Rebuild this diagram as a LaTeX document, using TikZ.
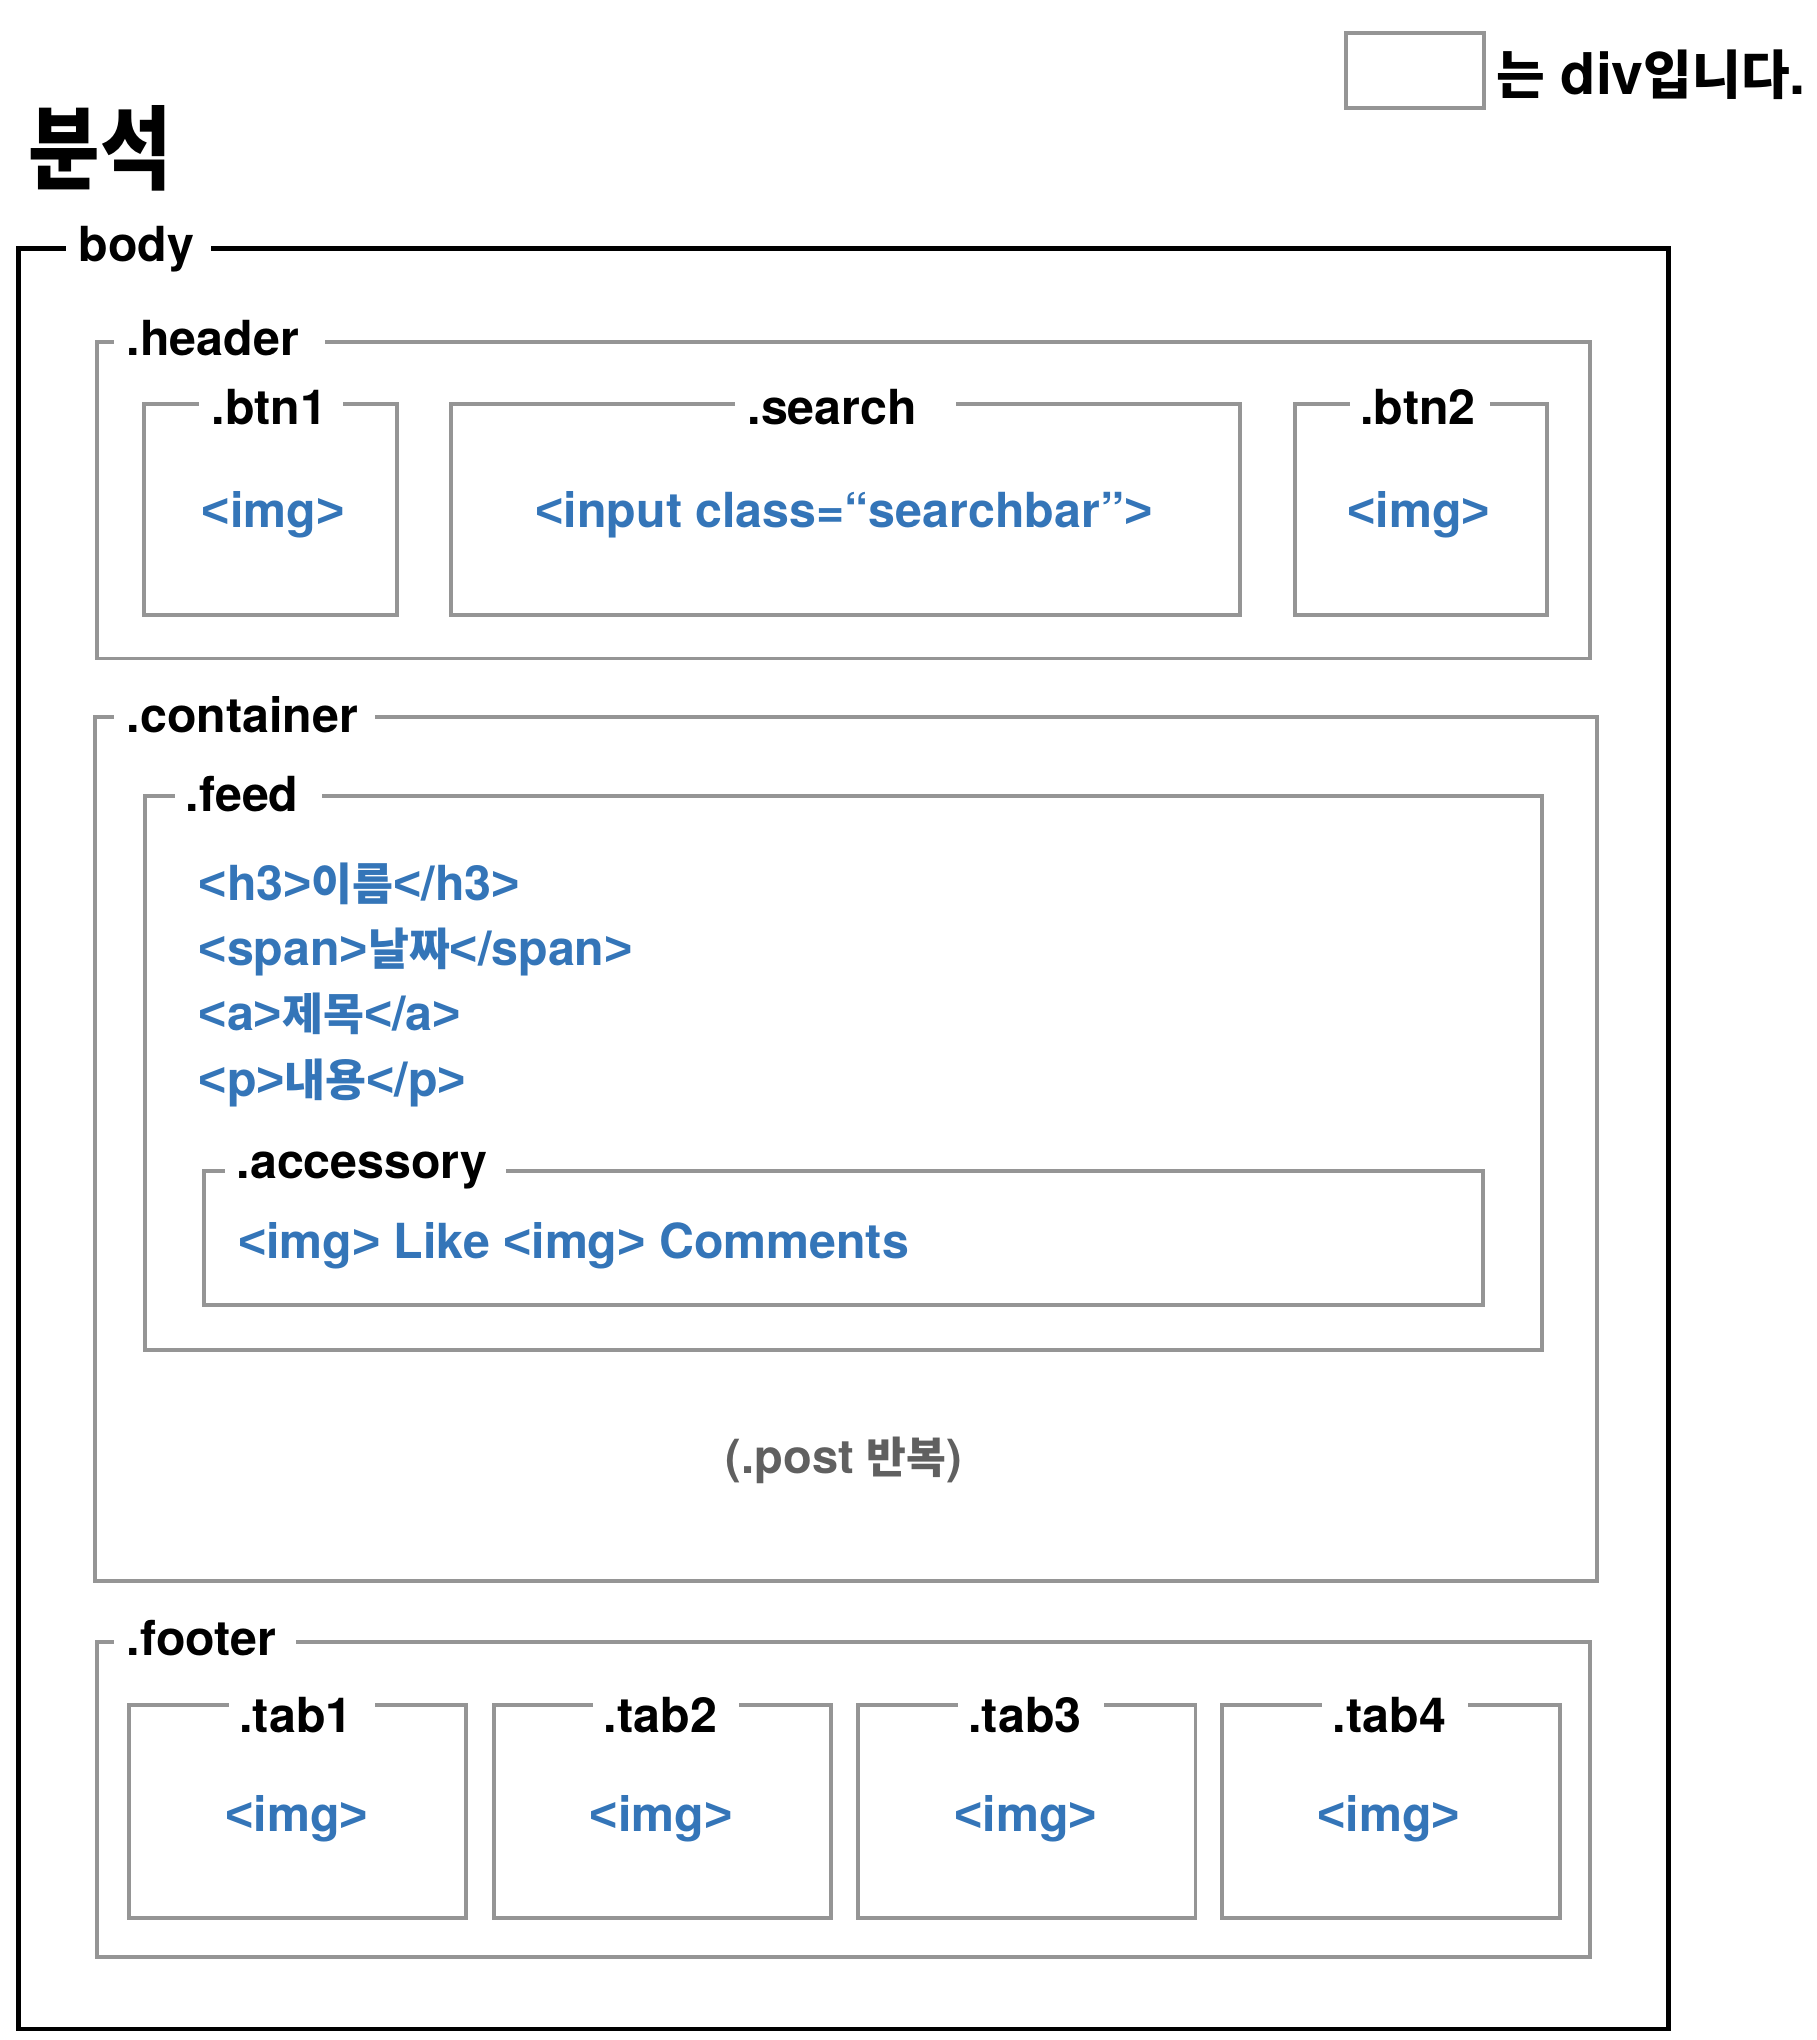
\documentclass[tikz,border=0pt]{standalone}
\usepackage{fontspec}
\newfontfamily\hv{TeX Gyre Heros}
\newfontfamily\ar{Liberation Sans}
\newfontfamily\cjk[Scale=0.92]{Noto Sans CJK KR}
\newcommand\LT{{\ar <}}
\newcommand\GT{{\ar >}}
\definecolor{divgray}{RGB}{149,149,149}
\definecolor{tagblue}{RGB}{52,117,184}
\definecolor{postgray}{RGB}{96,96,96}
\begin{document}
\begin{tikzpicture}[x=1pt,y=-1pt,
  divbox/.style={draw=divgray,line width=3pt},
  bodybox/.style={draw=black,line width=3.5pt},
  lbl/.style={font=\hv\bfseries\fontsize{37}{44}\selectfont,fill=white,inner sep=0pt,anchor=base west,text=black},
  tagc/.style={font=\hv\bfseries\fontsize{37}{44}\selectfont,text=tagblue,inner sep=0pt,anchor=base},
  tagl/.style={tagc,anchor=base west},
  postnote/.style={font=\hv\bfseries\fontsize{36}{44}\selectfont,text=postgray,inner sep=0pt,anchor=base}]
\useasboundingbox (0,0) rectangle (1390,1561.4);

% legend
\draw[divbox] (1030,25) rectangle (1136,83);
\node[font=\hv\bfseries\fontsize{44}{50}\selectfont,inner sep=0pt,anchor=base west] (legend) at (1145,72) {{\cjk 는} div{\cjk 입니다}.};

% title
\node[font=\cjk\bfseries\fontsize{76}{80}\selectfont,inner sep=0pt,anchor=base west,transform shape,xscale=0.85] (title) at (22,140) {분석};

% boxes
\draw[bodybox] (14,190) rectangle (1277,1553);
\draw[divbox] (74,262) rectangle (1217,504);
\draw[divbox] (110,309) rectangle (304,471);
\draw[divbox] (345,309) rectangle (949,471);
\draw[divbox] (991,309) rectangle (1184,471);
\draw[divbox] (73,549) rectangle (1222,1210);
\draw[divbox] (111,609) rectangle (1180,1033);
\draw[divbox] (156,896) rectangle (1135,999);
\draw[divbox] (74,1257) rectangle (1217,1498);
\draw[divbox] (99,1305) rectangle (357,1468);
\draw[divbox] (378,1305) rectangle (636,1468);
\draw[divbox] (657,1305) rectangle (915,1468);
\draw[divbox] (935,1305) rectangle (1194,1468);

% labels
\node[lbl] (lbody) at (50,200) {\kern10pt\relax body\kern13pt\relax};
\node[lbl] (lheader) at (87,272) {\kern10pt\relax .header\kern20pt\relax};
\node[lbl] (lbtn1) at (152,325) {\kern10pt\relax .btn1\kern12pt\relax};
\node[lbl] (lsearch) at (562,325) {\kern10pt\relax .search\kern30pt\relax};
\node[lbl] (lbtn2) at (1033,325) {\kern8pt\relax .btn2\kern11pt\relax};
\node[lbl] (lcontainer) at (87,561) {\kern10pt\relax .container\kern13pt\relax};
\node[lbl] (lfeed) at (134,621) {\kern8pt\relax .feed\kern18pt\relax};
\node[lbl] (laccessory) at (172,902) {\kern9pt\relax .accessory\kern14pt\relax};
\node[lbl] (lfooter) at (87,1267) {\kern10pt\relax .footer\kern15pt\relax};
\node[lbl] (ltab1) at (175,1326) {\kern8pt\relax .tab1\kern17pt\relax};
\node[lbl] (ltab2) at (454,1326) {\kern8pt\relax .tab2\kern17pt\relax};
\node[lbl] (ltab3) at (733,1326) {\kern8pt\relax .tab3\kern17pt\relax};
\node[lbl] (ltab4) at (1012,1326) {\kern8pt\relax .tab4\kern17pt\relax};

% header contents
\node[tagc] (img1) at (209,404) {\LT img\GT};
\node[tagc] (input) at (646,404) {\LT input class=“searchbar”\GT};
\node[tagc] (img2) at (1086,404) {\LT img\GT};

% feed contents
\node[tagl] (h3) at (152,689) {\LT h3\GT{\cjk 이름}\LT/h3\GT};
\node[tagl] (span) at (152,739) {\LT span\GT{\cjk 날짜}\LT/span\GT};
\node[tagl] (anch) at (152,789) {\LT a\GT{\cjk 제목}\LT/a\GT};
\node[tagl] (para) at (152,839) {\LT p\GT{\cjk 내용}\LT/p\GT};
\node[tagl] (acc) at (182,963) {\LT img\GT{} Like \LT img\GT{} Comments};

\node[postnote] (post) at (646,1128) {(.post {\cjk 반복})};

% footer contents
\node[tagc] (timg1) at (227,1402) {\LT img\GT};
\node[tagc] (timg2) at (506,1402) {\LT img\GT};
\node[tagc] (timg3) at (785,1402) {\LT img\GT};
\node[tagc] (timg4) at (1063,1402) {\LT img\GT};
\end{tikzpicture}
\end{document}
